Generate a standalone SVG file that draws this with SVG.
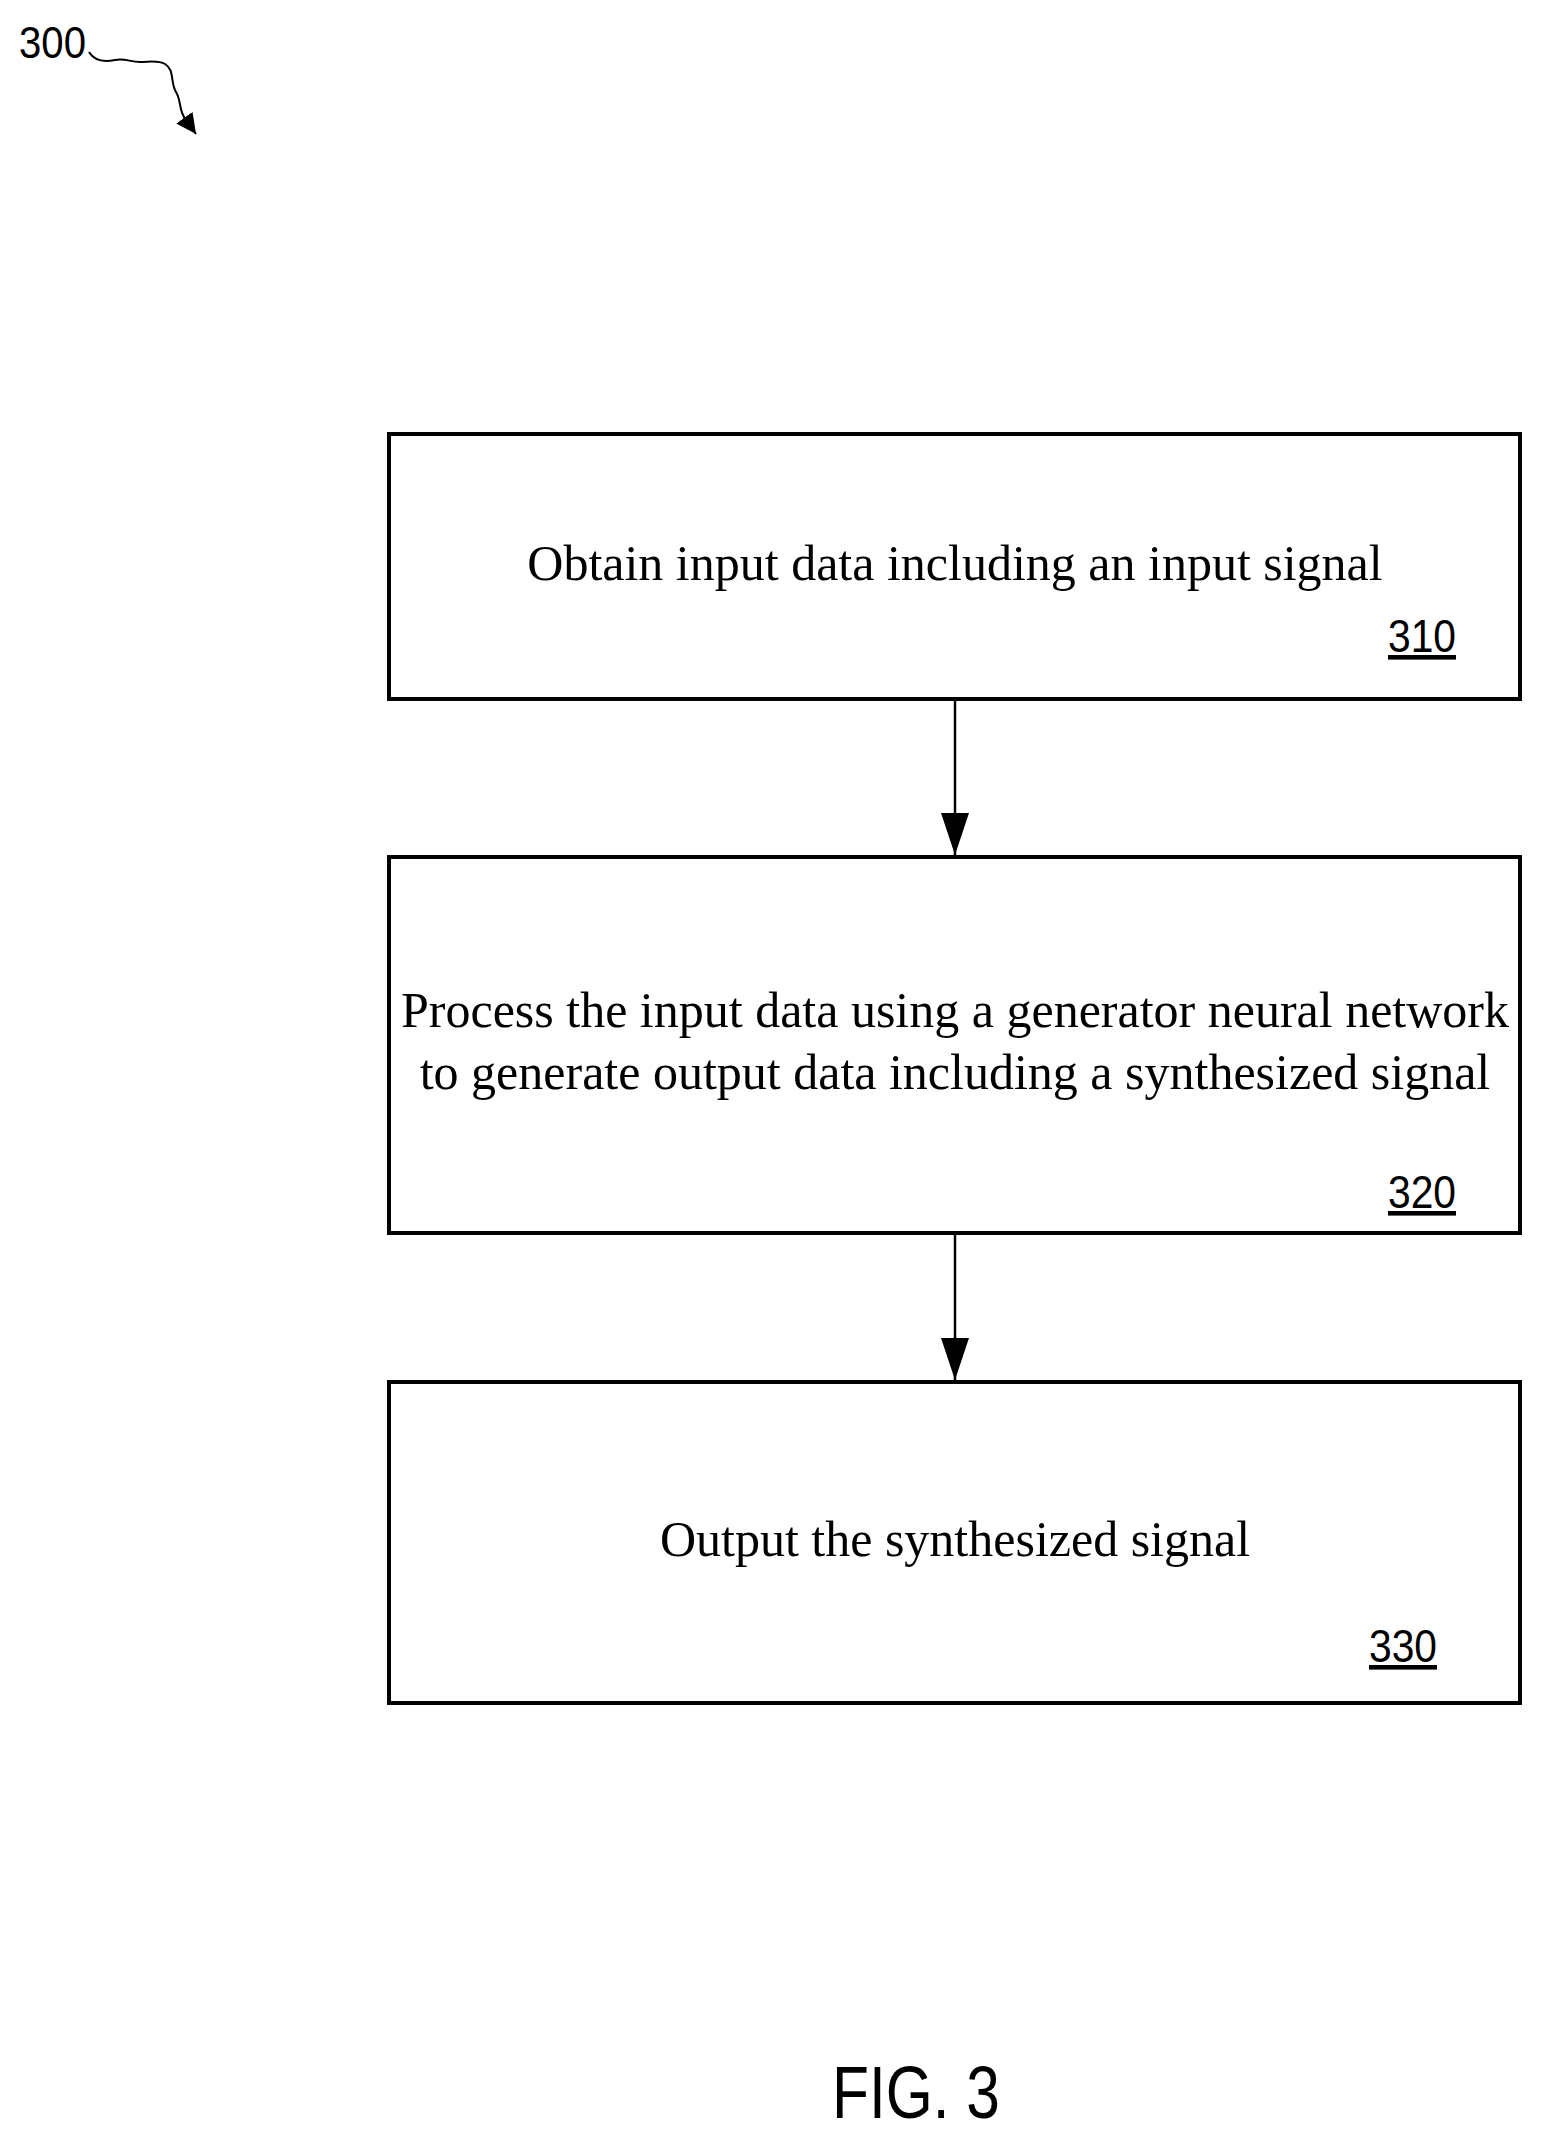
<svg xmlns="http://www.w3.org/2000/svg" width="1542" height="2138" viewBox="0 0 1542 2138">
<style>
.box{fill:#fff;stroke:#000;stroke-width:4}
.t{font-family:"Liberation Serif",serif;font-size:50px;text-anchor:middle}
.n{font-family:"Liberation Sans",sans-serif;font-size:46px;text-decoration:underline}
.c{stroke:#000;stroke-width:2.5;fill:none}
</style>
<defs><marker id="a" markerWidth="42" markerHeight="28" refX="42" refY="14" orient="auto" markerUnits="userSpaceOnUse" viewBox="0 0 42 28"><path d="M0,0 L42,14 L0,28 Z" fill="#000"/></marker>
<marker id="s" markerWidth="20" markerHeight="20" refX="20" refY="10" orient="auto" markerUnits="userSpaceOnUse" viewBox="0 0 20 20"><path d="M0,0 L20,10 L0,20 Z" fill="#000"/></marker></defs>
<rect width="1542" height="2138" fill="#fff"/>
<g id="label300"><text x="19" y="58" font-family="Liberation Sans,sans-serif" font-size="44" textLength="67" lengthAdjust="spacingAndGlyphs">300</text>
<path d="M89,52 C95,62 105,62 115,60 C125,58 130,62 140,62 C150,62 158,60 165,64 C175,70 170,82 176,92 C182,102 178,110 186,120 L196,134" stroke="#000" stroke-width="2" fill="none" marker-end="url(#s)"/></g>
<g id="n310"><rect class="box" x="389" y="434" width="1131" height="265"/>
<text class="t" x="955" y="580">Obtain input data including an input signal</text>
<text class="n" x="1388" y="652" textLength="68" lengthAdjust="spacingAndGlyphs">310</text></g>
<g id="n320"><rect class="box" x="389" y="857" width="1131" height="376"/>
<text class="t" x="955" y="1027">Process the input data using a generator neural network</text>
<text class="t" x="955" y="1089">to generate output data including a synthesized signal</text>
<text class="n" x="1388" y="1208" textLength="68" lengthAdjust="spacingAndGlyphs">320</text></g>
<g id="n330"><rect class="box" x="389" y="1382" width="1131" height="321"/>
<text class="t" x="955" y="1556">Output the synthesized signal</text>
<text class="n" x="1369" y="1662" textLength="68" lengthAdjust="spacingAndGlyphs">330</text></g>
<g id="connectors">
<line class="c" x1="955" y1="701" x2="955" y2="855" marker-end="url(#a)"/>
<line class="c" x1="955" y1="1235" x2="955" y2="1380" marker-end="url(#a)"/>
</g>
<text x="916" y="2118" font-family="Liberation Sans,sans-serif" font-size="74" text-anchor="middle" textLength="168" lengthAdjust="spacingAndGlyphs">FIG. 3</text>
</svg>
